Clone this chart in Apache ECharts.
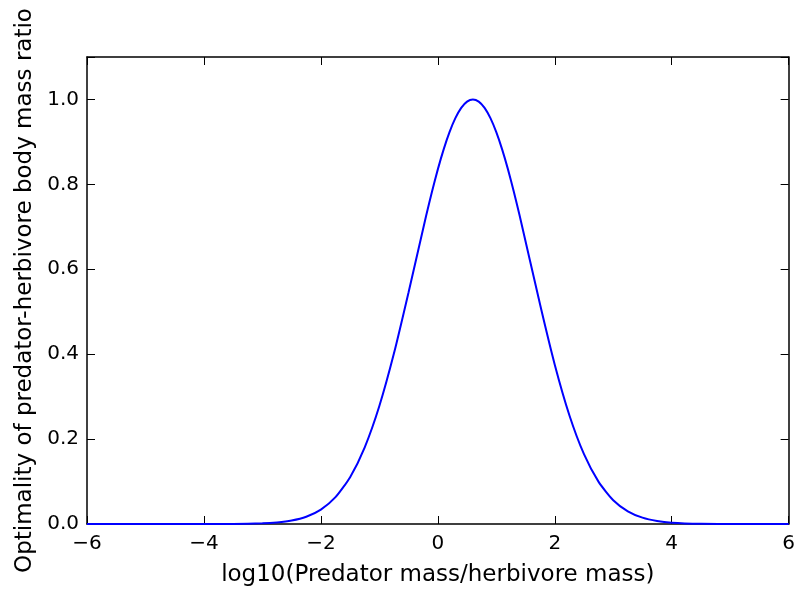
<!DOCTYPE html>
<html lang="en" style="height: 100%">
<head>
    <meta charset="UTF-8">
    <title>Optimality</title>
    <script src="https://cdn.jsdelivr.net/npm/echarts@6/dist/echarts.min.js"></script>
</head>
<body style="height: 100%; margin: 0; background: #fff">
<div id="container" style="width: 798px; height: 592px"></div>
<script type="text/javascript">
    // values
    var logRatio = [-6, -5, -4, -3.5, -3, -2.75, -2.5, -2.25, -2, -1.75, -1.5, -1.25, -1, -0.75, -0.5,
        -0.2, -0.1, 0, 0.1, 0.2, 0.3, 0.4, 0.5, 0.6, 0.7, 0.8, 0.9, 1, 1.1, 1.2, 1.3, 1.4,
        1.75, 2, 2.25, 2.5, 2.75, 3, 3.25, 3.5, 3.75, 4, 4.5, 5, 6];
    var optimality = [0, 0, 0, 0.0002, 0.0015, 0.0037, 0.0082, 0.0172, 0.034, 0.0632, 0.1103, 0.1807, 0.278, 0.402, 0.5461,
        0.7261, 0.7827, 0.8353, 0.8825, 0.9231, 0.956, 0.9802, 0.995, 1.0, 0.995, 0.9802, 0.956, 0.9231, 0.8825, 0.8353, 0.7827, 0.7261,
        0.5163, 0.3753, 0.2563, 0.1645, 0.0992, 0.0561, 0.0299, 0.0149, 0.007, 0.0031, 0.0005, 0.0001, 0];
    var xTicks = [-6, -4, -2, 0, 2, 4, 6];
    var yTicks = [0.0, 0.2, 0.4, 0.6, 0.8, 1.0];

    var font = 'DejaVu Sans';
    var pts = [];
    for (var i = 0; i < logRatio.length; i++) {
        pts.push([logRatio[i], optimality[i]]);
    }

    function minus(s) { return String(s).replace('-', '\u2212'); }

    var chart = echarts.init(document.getElementById('container'));
    var tickStyle = {show: true, inside: true, length: 8, lineStyle: {color: '#000', width: 1}};
    var lineStyle = {show: true, onZero: false, lineStyle: {color: '#000', width: 1.5}};

    var option = {
        animation: false,
        grid: {left: 87, right: 5, top: 57, bottom: 65},
        xAxis: [{
            type: 'value', min: xTicks[0], max: xTicks[xTicks.length - 1], interval: 2,
            position: 'bottom',
            name: 'log10(Predator mass/herbivore mass)', nameLocation: 'middle', nameGap: 40,
            nameTextStyle: {fontFamily: font, fontSize: 23, color: '#000'},
            axisLine: lineStyle, axisTick: tickStyle, splitLine: {show: false},
            axisLabel: {margin: 10, fontFamily: font, fontSize: 20, color: '#000',
                formatter: function (v) { return minus(v); }}
        }, {
            type: 'value', min: xTicks[0], max: xTicks[xTicks.length - 1], interval: 2,
            position: 'top', axisLine: lineStyle, axisTick: tickStyle,
            axisLabel: {show: false}, splitLine: {show: false}
        }],
        yAxis: [{
            type: 'value', min: 0, max: 1.1, interval: 0.2,
            position: 'left',
            name: 'Optimality of predator-herbivore body mass ratio', nameLocation: 'middle', nameGap: 49,
            nameTextStyle: {fontFamily: font, fontSize: 23, color: '#000'},
            axisLine: lineStyle, axisTick: tickStyle, splitLine: {show: false},
            axisLabel: {margin: 8, fontFamily: font, fontSize: 20, color: '#000',
                formatter: function (v) { return v > 1.05 ? '' : v.toFixed(1); }}
        }, {
            type: 'value', min: 0, max: 1.1, interval: 0.2,
            position: 'right', axisLine: lineStyle, axisTick: tickStyle,
            axisLabel: {show: false}, splitLine: {show: false}
        }],
        series: [{
            type: 'line',
            data: pts,
            smooth: 0.2,
            showSymbol: false,
            lineStyle: {color: '#0000ff', width: 2}
        }]
    };
    chart.setOption(option);
</script>
</body>
</html>
